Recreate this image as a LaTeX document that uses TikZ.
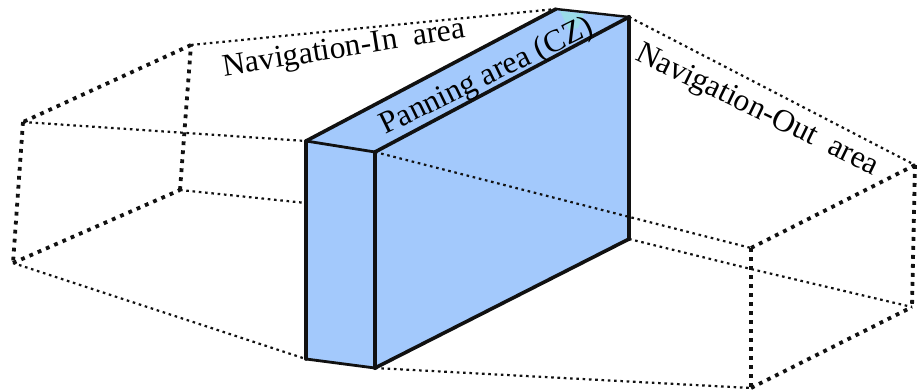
\documentclass[tikz,border=0pt]{standalone}
\usepackage{fontspec}
\setmainfont{Liberation Serif}
\definecolor{boxblue}{HTML}{A3C9FC}
\definecolor{patchcyan}{HTML}{9ADCE8}
\definecolor{inkk}{HTML}{111111}
\tikzset{
  thinDots/.style={inkk,line width=2.2pt,dash pattern=on 2.6pt off 3.7pt},
  thickDots/.style={inkk,line width=3.8pt,dash pattern=on 3.8pt off 5.2pt},
  boxEdge/.style={inkk,line width=3.6pt,line join=round,line cap=round},
  lbl/.style={font=\fontsize{31.5}{32}\selectfont,inner sep=0pt,text=black}
}
\begin{document}
\begin{tikzpicture}[x=1pt,y=-1pt]
\useasboundingbox (0,0) rectangle (920,390);
% left frame
\coordinate (A) at (191,45);
\coordinate (B) at (23,122);
\coordinate (C) at (13,263);
\coordinate (D) at (180,190);
% box
\coordinate (P1) at (306,141);
\coordinate (P2) at (375,152);
\coordinate (P3) at (556,9);
\coordinate (P4) at (629,17);
\coordinate (P5) at (629,239);
\coordinate (P6) at (375,368);
\coordinate (P7) at (306,359);
\coordinate (PD) at (306,203);
% right frame
\coordinate (Q1) at (915,165);
\coordinate (Q2) at (751,248);
\coordinate (Q3) at (751,388);
\coordinate (Q4) at (912,307);
\coordinate (QM) at (751,269);
% fills
\fill[boxblue] (P1) -- (P3) -- (P4) -- (P5) -- (P6) -- (P7) -- cycle;
\fill[patchcyan] (560,11) -- (584,14) -- (578,28) -- (569,30) -- cycle;
% hidden lines
\draw[thinDots] (A) -- (P3);
\draw[thinDots] (B) -- (P1);
\draw[thinDots] (C) -- (P7);
\draw[thinDots] (D) -- (PD);
\draw[thinDots] (P4) -- (Q1);
\draw[thinDots] (P2) -- (Q2);
\draw[thinDots] (P5) -- (QM) -- (Q4);
\draw[thinDots] (P6) -- (Q3);
% frames
\draw[thickDots] (A) -- (B);
\draw[thickDots] (B) -- (C);
\draw[thickDots] (C) -- (D);
\draw[thickDots] (D) -- (A);
\draw[thickDots] (Q1) -- (Q2);
\draw[thickDots] (Q1) -- (Q4);
\draw[thickDots] (Q2) -- (Q3);
\draw[thickDots] (Q3) -- (Q4);
% box edges
\draw[boxEdge] (P1) -- (P3);
\draw[boxEdge,line width=2.4pt] (P3) -- (P4);
\draw[boxEdge,line width=2.8pt] (P1) -- (P2);
\draw[boxEdge] (P2) -- (P4);
\draw[boxEdge] (P1) -- (P7);
\draw[boxEdge,line width=4.2pt] (P2) -- (P6);
\draw[boxEdge,line width=4.2pt] (P4) -- (P5);
\draw[boxEdge] (P5) -- (P6);
\draw[boxEdge,line width=2.8pt] (P7) -- (P6);
% labels
\node[lbl,rotate=9] (navin) at (344,50) {Navigation-In\ \ area};
\node[lbl,rotate=26] (pan) at (487,77) {Panning area (CZ)};
\node[lbl,rotate=-26] (navout) at (757,111) {Navigation-Out\ \ area};
\end{tikzpicture}
\end{document}
